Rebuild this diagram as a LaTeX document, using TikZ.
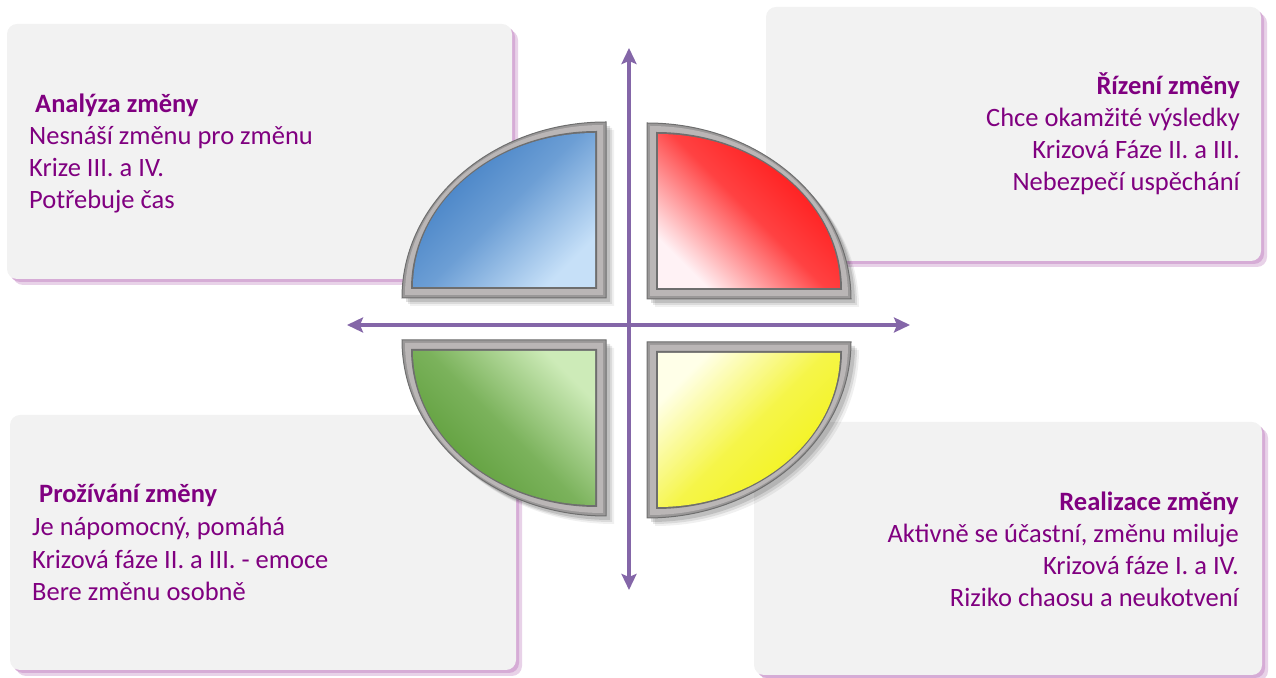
\documentclass[tikz,border=0pt]{standalone}
\usepackage{fontspec}
\setmainfont{Carlito}
\usetikzlibrary{arrows.meta}
\definecolor{txt}{HTML}{800080}
\definecolor{boxfill}{HTML}{F2F2F2}
\definecolor{shadowA}{HTML}{D6ACD6}
\definecolor{shadowB}{HTML}{E8D2E8}
\definecolor{axiscol}{HTML}{8466A8}
\definecolor{frameA}{HTML}{6E6E6E}
\definecolor{frameB}{HTML}{BAB6B6}
\definecolor{frameC}{HTML}{9A9898}
\definecolor{blueD}{HTML}{3C7BC2}
\definecolor{blueL}{HTML}{C6E0F8}
\definecolor{redD}{HTML}{FF1010}
\definecolor{redL}{HTML}{FFF2F5}
\definecolor{greenD}{HTML}{589A34}
\definecolor{greenL}{HTML}{CDEBB8}
\definecolor{yelD}{HTML}{F2F214}
\definecolor{yelL}{HTML}{FFFFE8}
\tikzset{
  txtline/.style={text=txt, inner sep=0pt, font=\fontsize{26.5bp}{32bp}\selectfont},
  txttitle/.style={txtline, font=\fontsize{26.5bp}{32bp}\selectfont\bfseries},
  boxshape/.style={rounded corners=10bp},
  axisarrow/.style={draw=axiscol, line width=4.5bp,
     {Stealth[length=16bp,width=15bp,inset=3bp]}-{Stealth[length=16bp,width=15bp,inset=3bp]}},
  blueshade/.style={top color=blueD, bottom color=blueL, middle color=blueD!65!blueL, shading angle=45},
  redshade/.style={top color=redD, bottom color=redL, middle color=redD!78!redL, shading angle=-45},
  greenshade/.style={top color=greenL, bottom color=greenD, middle color=greenD!70!greenL, shading angle=-45},
  yelshade/.style={top color=yelL, bottom color=yelD, middle color=yelD!75!yelL, shading angle=45},
}
% #1 cx, #2 cy, #3 start angle, #4 sx, #5 sy, #6 shading style
\newcommand\drawquadrant[6]{%
  \foreach \o/\op in {8/0.06,6/0.09,4/0.12}{%
    \fill[black,opacity=\op,shift={(\o,-\o)}] (#1,#2) -- ++(#3:204 and 176)
      arc[start angle=#3,delta angle=90,x radius=204,y radius=176] -- cycle;}
  \fill[frameC,draw=frameA,line width=1bp] (#1,#2) -- ++(#3:204 and 176)
      arc[start angle=#3,delta angle=90,x radius=204,y radius=176] -- cycle;
  \fill[frameB] ({#1+#4*3},{#2+#5*3}) -- ++(#3:198 and 170)
      arc[start angle=#3,delta angle=90,x radius=198,y radius=170] -- cycle;
  \fill[frameA] ({#1+#4*9},{#2+#5*9}) -- ++(#3:186 and 158)
      arc[start angle=#3,delta angle=90,x radius=186,y radius=158] -- cycle;
  \shade[#6] ({#1+#4*11},{#2+#5*11}) -- ++(#3:182 and 154)
      arc[start angle=#3,delta angle=90,x radius=182,y radius=154] -- cycle;
}
% #1 x0 #2 y0 #3 x1 #4 y1
\newcommand\drawbox[4]{%
  \fill[shadowB,boxshape] (#1+6,#2-6) rectangle (#3+6,#4-6);
  \fill[shadowA,boxshape] (#1+3,#2-3) rectangle (#3+3,#4-3);
  \fill[boxfill,boxshape] (#1,#2) rectangle (#3,#4);
}
\begin{document}
\begin{tikzpicture}[x=1bp,y=1bp]
\useasboundingbox (0,0) rectangle (1276,678);
% boxes
\drawbox{7}{654}{512}{399}
\drawbox{766}{671}{1261}{417}
\drawbox{10}{263}{516}{8}
\drawbox{754}{256}{1262}{3}
% quadrants
\drawquadrant{606}{380}{90}{-1}{1}{blueshade}
\drawquadrant{647}{379}{0}{1}{1}{redshade}
\drawquadrant{606}{338}{180}{-1}{-1}{greenshade}
\drawquadrant{647}{336}{270}{1}{-1}{yelshade}
% axes
\coordinate (vtop) at (629,630);
\coordinate (vbot) at (629,88);
\coordinate (hleft) at (347,353);
\coordinate (hright) at (910,353);
\draw[axisarrow] (hleft) -- (hright);
\draw[axisarrow] (vbot) -- (vtop);
% texts
\node[txttitle, anchor=base west] (tl1) at (35,565) {Analýza změny};
\node[txtline, anchor=base west] (tl2) at (29,533) {Nesnáší změnu pro změnu};
\node[txtline, anchor=base west] (tl3) at (29,501) {Krize III. a IV.};
\node[txtline, anchor=base west] (tl4) at (29,469) {Potřebuje čas};
\node[txttitle, anchor=base east] (tr1) at (1240,583) {Řízení změny};
\node[txtline, anchor=base east] (tr2) at (1240,551) {Chce okamžité výsledky};
\node[txtline, anchor=base east] (tr3) at (1240,519) {Krizová Fáze II. a III.};
\node[txtline, anchor=base east] (tr4) at (1240,487) {Nebezpečí uspěchání};
\node[txttitle, anchor=base west] (bl1) at (39,175) {Prožívání změny};
\node[txtline, anchor=base west] (bl2) at (32,142) {Je nápomocný, pomáhá};
\node[txtline, anchor=base west] (bl3) at (32,109) {Krizová fáze II. a III. - emoce};
\node[txtline, anchor=base west] (bl4) at (32,77) {Bere změnu osobně};
\node[txttitle, anchor=base east] (br1) at (1239,167) {Realizace změny};
\node[txtline, anchor=base east] (br2) at (1239,135) {Aktivně se účastní, změnu miluje};
\node[txtline, anchor=base east] (br3) at (1239,103) {Krizová fáze I. a IV.};
\node[txtline, anchor=base east] (br4) at (1239,71) {Riziko chaosu a neukotvení};
\end{tikzpicture}
\end{document}
